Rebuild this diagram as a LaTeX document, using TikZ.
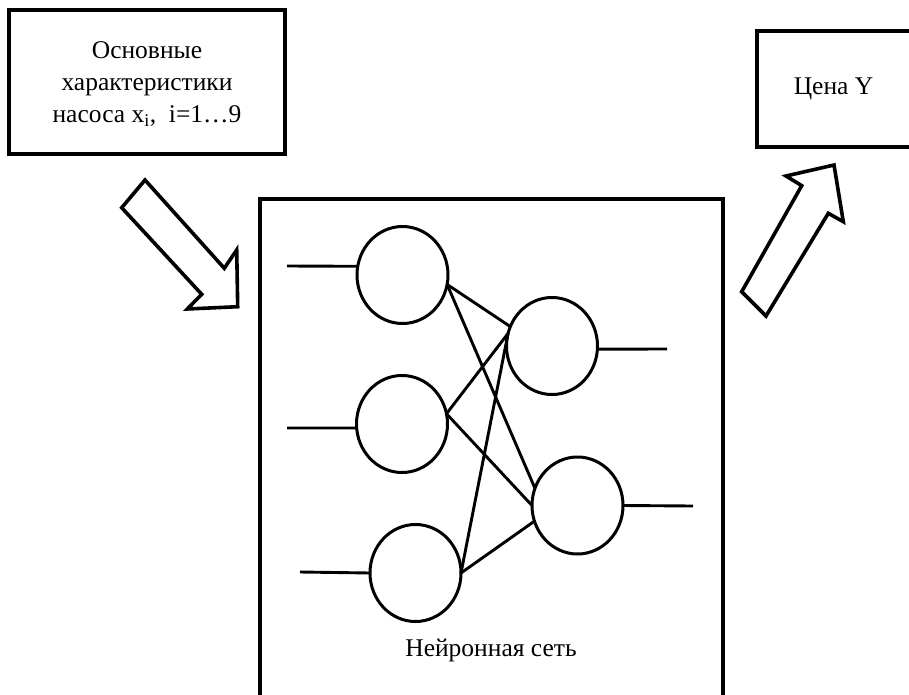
\documentclass[tikz,border=0pt]{standalone}
\usepackage{fontspec}
\setmainfont{Liberation Serif}
\usetikzlibrary{shapes.geometric}
\tikzset{
  x=1pt, y=-1pt,
  boxline/.style={line width=4.6pt, line join=miter},
  neuron/.style={draw, ellipse, line width=3pt, minimum width=91pt, minimum height=97pt, inner sep=0pt, outer sep=0pt},
  link/.style={line width=2.9pt},
  blockarrow/.style={draw, line width=3.6pt, line join=miter, fill=white},
  label/.style={font=\fontsize{25.5}{32}\selectfont, inner sep=0pt, align=center}
}
\begin{document}
\begin{tikzpicture}
\useasboundingbox (0,0) rectangle (909,695);
\clip (0,0) rectangle (909,695);
\fill[white] (0,0) rectangle (909,695);
% boxes
\draw[boxline] (9,10) rectangle (285,154);
\node[label] (inp) at (147,84) {Основные\\характеристики\\насоса x\textsubscript{i},\ \ i=1…9};
\draw[boxline] (757,31) rectangle (930,147);
\node[label] (out) at (833.5,89) {Цена Y};
\draw[boxline] (260,199) rectangle (723,699);
\node[label] (nn) at (491,650) {Нейронная сеть};
% block arrows
\draw[blockarrow] (121.7,207.7) -- (145,180) -- (224.3,268.3) -- (236.7,250) -- (237.7,306.7) -- (187.3,309) -- (201.7,294.3) -- cycle;
\draw[blockarrow] (741.7,291.7) -- (766,316) -- (828.3,213.3) -- (843.3,221.7) -- (834,165) -- (786,176) -- (801.7,185.7) -- cycle;
% neurons
\node[neuron] (c1) at (402.5,275) {};
\node[neuron] (c2) at (402,424) {};
\node[neuron] (c3) at (415.5,573) {};
\node[neuron] (c4) at (552,346) {};
\node[neuron] (c5) at (577.5,505.5) {};
% free ends
\coordinate (in1) at (287,266);
\coordinate (in2) at (287,428);
\coordinate (in3) at (300,572);
\coordinate (o1) at (667,349);
\coordinate (o2) at (693,506);
\draw[link] (in1) -- (c1.169);
\draw[link] (in2) -- (c2.185);
\draw[link] (in3) -- (c3.180);
\draw[link] (c4.-4) -- (o1);
\draw[link] (c5.0) -- (o2);
% connections
\draw[link] (c1.-12) -- (c4.155);
\draw[link] (c1.-12) -- (c5.158);
\draw[link] (c2.13) -- (c4.164);
\draw[link] (c2.13) -- (c5.180);
\draw[link] (c3.0) -- (c4.164);
\draw[link] (c3.0) -- (c5.200);
\end{tikzpicture}
\end{document}
